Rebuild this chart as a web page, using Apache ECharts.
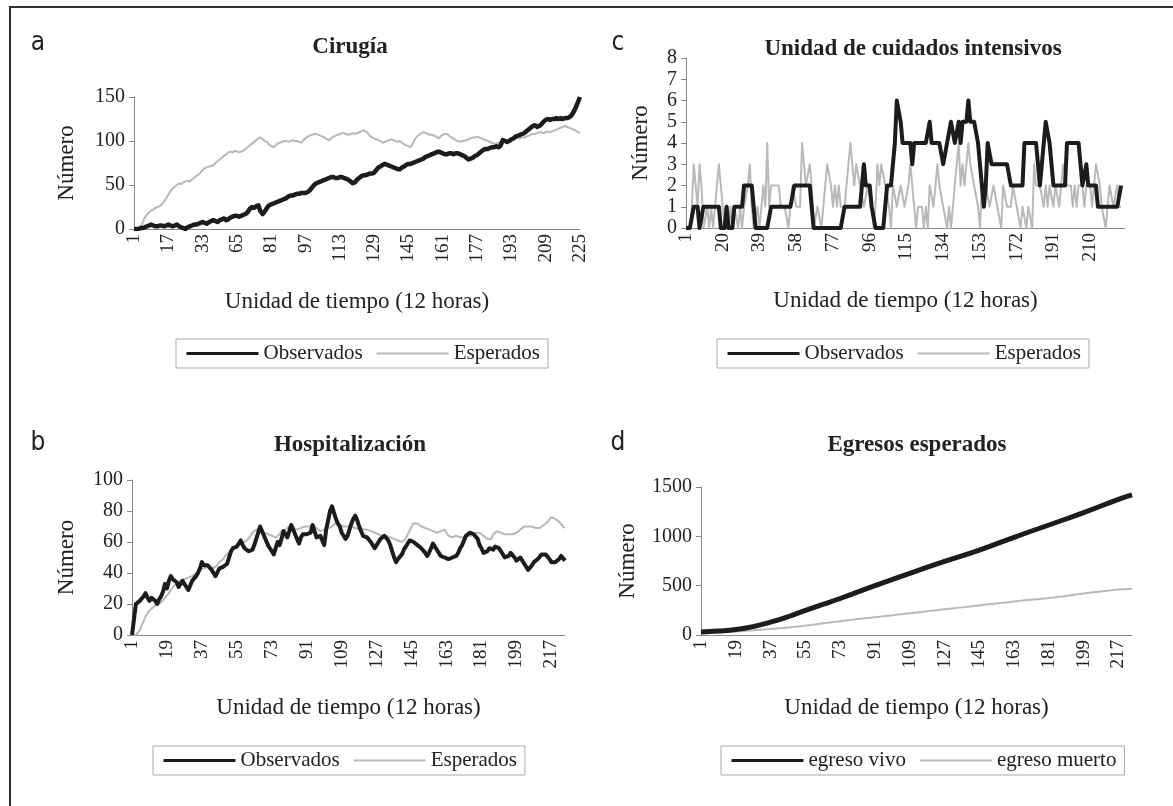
<!DOCTYPE html>
<html><head><meta charset="utf-8">
<script src="https://cdn.jsdelivr.net/npm/echarts@6/dist/echarts.min.js"></script>
<style>html,body{margin:0;padding:0;background:#fff}#c{width:1173px;height:806px}</style>
</head><body><div id="c"></div>
<script>
const SERIF = '"Liberation Serif","Times New Roman",serif';
const SANS = '"Liberation Sans Narrow","DejaVu Sans Condensed","Liberation Sans",sans-serif';
const TXT = '#222';
const BLACK = '#1c1c1c';
const GRAY = '#b9b9b9';

function seq(a, b) { const r = []; for (let i = a; i <= b; i++) r.push(String(i)); return r; }

// Panel a: Cirugía (category names jump from 33 to 50)
const catA = seq(1, 33).concat(seq(50, 225));
const obsA = [
0,0,0,1,1,2,3,4,5,4, 3,3,4,4,3,4,5,4,3,4, 5,3,2,1,0,2,3,4,5,5, 6,7,8,7,6,8,9,10,9,8,
10,11,12,10,11,13,14,15,15,14, 15,16,17,19,23,25,24,26,27,20, 17,20,24,27,28,29,30,31,32,33,
34,35,37,38,38,39,40,40,41,41, 41,42,44,47,50,52,53,54,55,56, 57,58,59,59,58,58,59,59,58,57,
56,54,52,53,56,58,60,61,61,62, 63,63,64,67,70,71,73,74,73,72, 71,70,69,68,68,70,71,73,74,74,
75,76,77,78,79,80,82,83,84,85, 86,87,88,87,86,85,85,86,86,85, 86,86,85,84,83,81,79,80,81,83,
84,86,88,90,91,91,92,93,93,94, 93,95,101,100,99,100,102,103,105,106, 107,108,109,111,113,115,117,118,116,117,
119,122,124,125,124,125,125,126,125,126, 125,126,126,127,129,133,138,144,150];
const espA = [
0,0,0,2,7,13,16,19,21,22, 24,25,26,28,31,35,39,43,46,48, 50,52,51,53,54,55,54,56,58,60,
62,64,67,69,70,71,72,72,75,77, 79,81,83,85,87,88,87,89,88,87, 88,89,91,93,95,97,99,101,103,104,
102,100,99,96,94,93,95,97,98,99, 100,100,99,100,101,100,100,99,98,101, 103,105,106,107,108,108,107,106,105,104,
102,101,103,105,106,107,108,109,109,108, 107,108,109,108,109,110,111,112,111,109, 106,104,103,102,101,100,98,99,100,101,
102,101,100,99,100,98,96,95,94,93, 97,102,105,107,109,110,109,108,107,107, 106,105,103,105,107,108,108,106,104,103,
101,100,99,100,100,101,102,103,104,104, 105,104,103,102,101,100,99,98,97,97, 98,99,100,99,98,100,101,102,103,104,
103,104,104,105,106,107,108,108,109,110, 110,109,110,111,110,111,112,113,114,115, 116,117,116,115,114,113,112,110,109];

// Panel b: Hospitalización
const catB = seq(1, 224);
const obsB = [
0,10,20,21,22,23,25,27,24,22, 24,25,22,20,23,25,28,33,30,35, 38,36,35,34,31,33,35,34,31,29,
32,35,36,38,40,43,47,45,44,45, 46,42,40,38,39,43,44,44,44,46, 50,54,56,57,57,59,61,58,56,55,
54,54,55,58,62,66,70,67,64,61, 58,56,54,52,56,60,58,62,67,65, 63,67,71,68,65,62,59,63,65,65,
65,66,66,71,67,63,64,64,61,58, 68,74,80,83,79,75,72,70,66,64, 62,64,68,72,75,77,74,70,67,64,
64,63,62,60,58,56,58,60,62,63, 64,65,61,58,54,50,47,49,50,52, 55,57,59,61,62,60,59,58,57,56,
55,53,51,53,56,59,57,55,53,51, 51,50,49,49,49,50,50,51,53,56, 58,61,64,65,66,66,65,64,62,58,
56,53,52,54,56,55,55,57,58,56, 54,52,50,49,51,53,52,50,48,49, 50,48,46,44,42,43,45,47,48,49,
50,52,53,52,51,49,47,46,47,48, 49,51,50,48];
const espB = [
0,0,0,0,3,6,9,12,14,16, 17,18,19,20,21,21,22,24,25,27, 29,31,32,33,34,35,35,36,36,37,
38,38,39,40,41,42,43,43,43,44, 44,43,43,44,45,47,48,49,51,52, 53,54,55,56,57,58,59,59,60,61,
62,64,66,67,68,68,68,67,66,66, 65,64,64,63,63,64,65,67,68,68, 69,70,70,69,68,68,68,69,70,70,
70,70,71,70,70,69,68,67,67,68, 69,69,69,70,71,72,72,71,70,70, 70,70,70,70,69,69,68,68,68,68,
68,68,67,67,66,66,65,65,64,64, 64,64,64,63,63,62,62,61,61,60, 60,62,65,67,70,72,73,72,71,70,
69,69,68,68,68,67,67,66,67,67, 68,68,66,64,63,63,64,64,64,63, 63,63,63,64,64,64,65,66,67,66,
65,64,63,62,61,62,65,66,67,66, 66,65,65,65,65,65,65,66,66,67, 68,69,70,70,70,70,70,70,69,69,
69,70,71,72,73,74,76,77,75,74, 73,72,70,69];

// Panel c: Unidad de cuidados intensivos
const catC = seq(1, 228);
const obsC = [
0,0,0,0,1,1,1,0,0,1, 1,1,1,1,1,1,1,1,0,0, 0,1,0,0,0,1,1,1,1,1, 2,2,2,2,2,2,0,0,0,0,
0,0,0,0,1,1,1,1,1,1, 1,1,1,1,1,1,2,2,2,2, 2,2,2,2,2,1,0,0,0,0, 0,0,0,0,0,0,0,0,0,0,
0,0,1,1,1,1,1,1,1,1, 1,1,3,2,2,2,1,1,0,0, 0,0,0,0,2,2,2,2,4,6, 6,5,4,4,4,4,4,3,4,4,
4,4,4,4,4,4,5,4,4,4, 4,4,4,3,3,4,4,5,5,4, 4,5,4,5,5,5,6,5,5,5, 5,4,3,2,1,2,4,4,3,3,
3,3,3,3,3,3,3,3,2,2, 2,2,2,2,2,4,4,4,4,4, 4,4,3,2,3,4,5,5,4,3, 2,2,2,2,2,2,2,4,4,4,
4,4,4,4,3,2,2,3,2,2, 2,2,2,1,1,1,1,1,1,1, 1,1,1,1,1,2];
const espC = [
0,0,0,1,3,2,1,3,2,0, 0,1,0,1,0,1,2,3,2,2, 0,0,0,1,0,1,1,0,1,0, 1,1,2,3,1,0,0,1,0,0,
2,1,4,1,2,2,2,2,2,1, 1,1,1,0,0,2,2,1,1,1, 4,3,2,2,3,2,0,0,1,1, 0,1,2,3,3,2,1,2,1,2,
1,1,1,2,2,4,3,2,3,3, 2,2,1,1,2,2,1,0,1,3, 2,3,3,2,2,1,0,2,2,1, 1,2,2,1,1,2,3,2,2,0,
1,1,1,0,1,0,2,2,1,1, 3,2,2,1,1,0,1,0,1,2, 2,4,2,3,2,3,4,3,3,2, 2,1,0,2,2,2,2,1,1,2,
2,1,1,0,2,2,1,1,1,2, 2,1,1,0,1,1,0,1,1,0, 3,2,2,2,2,1,2,1,2,2, 1,2,2,1,2,3,3,2,2,2,
1,2,1,2,2,2,1,2,2,2, 1,1,3,3,2,1,1,0,1,2, 2,1,1,2,1,1];

// Panel d: Egresos esperados  ([category index, value] read at label positions)
const catD = seq(1, 224);
const vivoD = [[0,30],[9,40],[18,55],[27,85],[36,130],[45,185],[54,250],[63,310],[72,370],[90,500],[108,625],[126,745],[144,860],[162,990],[180,1115],[198,1240],[216,1375],[223,1420]];
const muertoD = [[0,20],[18,35],[36,60],[54,95],[72,140],[90,180],[108,220],[126,260],[144,300],[162,340],[180,375],[198,420],[216,460],[223,470]];

const XNAME = 'Unidad de tiempo (12 horas)';
const YNAME = 'Número';

function xAx(grid, cats, interval) {
  return {
    type: 'category', gridIndex: grid, data: cats, boundaryGap: false,
    axisLine: { lineStyle: { color: '#8a8a8a', width: 1 } },
    axisTick: { show: false },
    axisLabel: { rotate: 90, interval: interval, fontSize: 19, fontFamily: SERIF, color: TXT, margin: 5 },
    splitLine: { show: false },
    name: XNAME, nameLocation: 'middle', nameGap: 61,
    nameTextStyle: { fontSize: 23, fontFamily: SERIF, color: TXT }
  };
}
function yAx(grid, max, interval, gap) {
  return {
    type: 'value', gridIndex: grid, min: 0, max: max, interval: interval,
    axisLine: { show: true, lineStyle: { color: '#8a8a8a', width: 1 } },
    axisTick: { show: true, length: 5, lineStyle: { color: '#8a8a8a' } },
    axisLabel: { fontSize: 20, fontFamily: SERIF, color: TXT, margin: 9, formatter: function (v) { return String(v); } },
    splitLine: { show: false },
    name: YNAME, nameLocation: 'middle', nameGap: gap,
    nameTextStyle: { fontSize: 23, fontFamily: SERIF, color: TXT }
  };
}
function ser(name, idx, data, color, width, smooth) {
  return {
    type: 'line', name: name, xAxisIndex: idx, yAxisIndex: idx, data: data,
    symbol: 'none', smooth: !!smooth, lineStyle: { color: color, width: width, join: 'round' },
    itemStyle: { color: color }, silent: true
  };
}
function leg(left, top, n1, n2) {
  return {
    left: left, top: top, orient: 'horizontal', selectedMode: false,
    itemWidth: 72, itemHeight: 12, itemGap: 13,
    padding: [4, 8, 4, 9], borderColor: '#aaaaaa', borderWidth: 1,
    textStyle: { fontSize: 21, fontFamily: SERIF, color: TXT },
    data: [
      { name: n1, lineStyle: { width: 3, color: BLACK }, itemStyle: { color: BLACK, opacity: 0, borderWidth: 0 } },
      { name: n2, lineStyle: { width: 2, color: GRAY }, itemStyle: { color: GRAY, opacity: 0, borderWidth: 0 } }
    ]
  };
}
function txt(x, y, s, font) {
  return { type: 'text', x: x, y: y, silent: true,
    style: { text: s, font: font, fill: TXT, align: 'center', verticalAlign: 'middle' } };
}

const chart = echarts.init(document.getElementById('c'));
chart.setOption({
  animation: false,
  backgroundColor: '#fff',
  grid: [
    { left: 134, top: 97, width: 446, height: 132 },
    { left: 686, top: 58, width: 439, height: 170 },
    { left: 132, top: 480, width: 433, height: 155 },
    { left: 701, top: 487, width: 431, height: 148 }
  ],
  xAxis: [xAx(0, catA, 15), xAx(1, catC, 18), xAx(2, catB, 17), xAx(3, catD, 17)],
  yAxis: [yAx(0, 150, 50, 56), yAx(1, 8, 1, 34), yAx(2, 100, 20, 54), yAx(3, 1500, 500, 62)],
  legend: [
    leg(176, 339, 'Observados', 'Esperados'),
    leg(717, 339, 'Observados', 'Esperados'),
    leg(153, 746, 'Observados', 'Esperados'),
    leg(721, 746, 'egreso vivo', 'egreso muerto')
  ],
  series: [
    ser('Esperados', 0, espA, GRAY, 2),
    ser('Observados', 0, obsA, BLACK, 4.5),
    ser('Esperados', 1, espC, GRAY, 2),
    ser('Observados', 1, obsC, BLACK, 4),
    ser('Esperados', 2, espB, GRAY, 2),
    ser('Observados', 2, obsB, BLACK, 4),
    ser('egreso muerto', 3, muertoD, GRAY, 2, true),
    ser('egreso vivo', 3, vivoD, BLACK, 5, true)
  ],
  graphic: [
    { type: 'polyline', silent: true, shape: { points: [[10, 806], [10, 7], [1173, 7]] },
      style: { stroke: '#333', lineWidth: 2, fill: null } },
    txt(38, 43, 'a', '26px ' + SANS),
    txt(618, 43, 'c', '26px ' + SANS),
    txt(38, 443, 'b', '26px ' + SANS),
    txt(618, 443, 'd', '26px ' + SANS),
    txt(350, 47, 'Cirugía', 'bold 23px ' + SERIF),
    txt(913, 49, 'Unidad de cuidados intensivos', 'bold 23px ' + SERIF),
    txt(350, 445, 'Hospitalización', 'bold 23px ' + SERIF),
    txt(917, 445, 'Egresos esperados', 'bold 23px ' + SERIF)
  ]
});
</script>
</body></html>
